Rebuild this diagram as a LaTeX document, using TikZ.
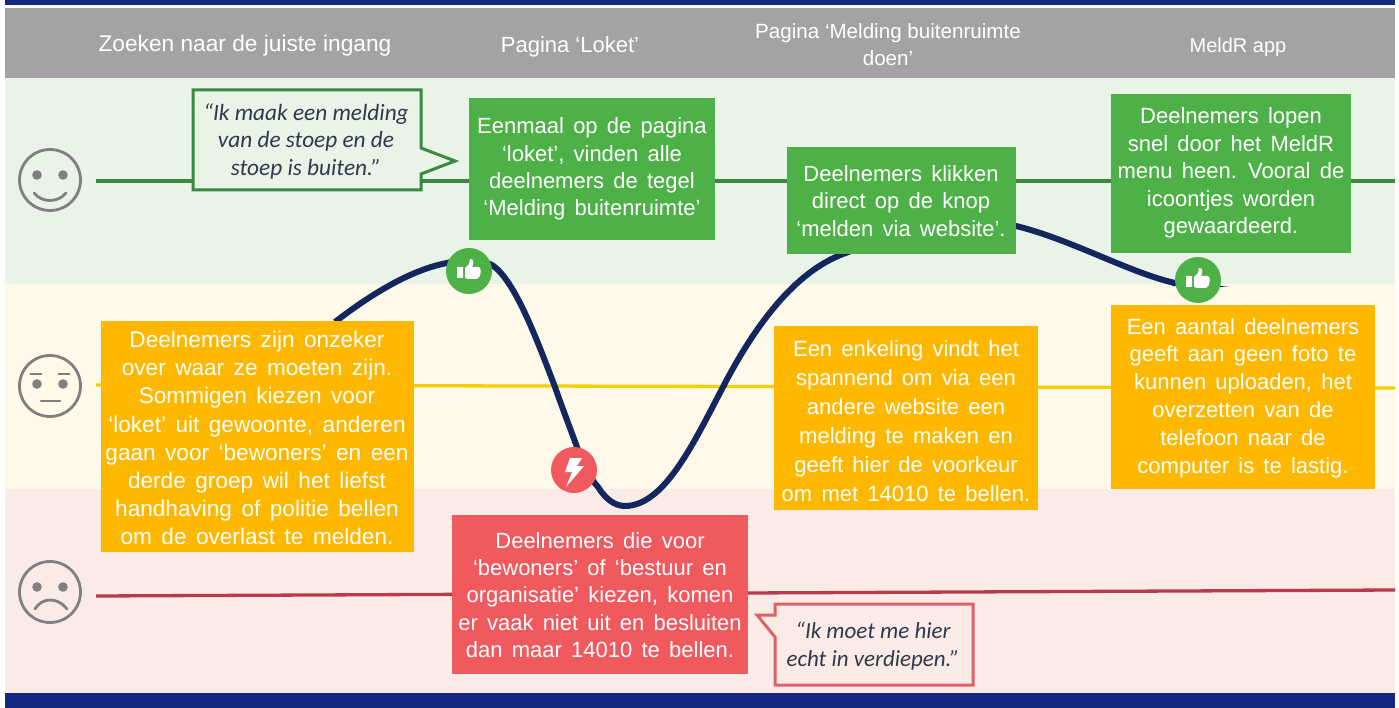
\documentclass[tikz,border=0pt]{standalone}
\usepackage{fontspec}
\setmainfont{Liberation Sans}
\newfontfamily\quotefont{Carlito}
\definecolor{navy}{HTML}{14287F}
\definecolor{curvenavy}{HTML}{13275E}
\definecolor{hdr}{HTML}{A3A3A3}
\definecolor{bandg}{HTML}{E9F3E8}
\definecolor{bandy}{HTML}{FEF9E8}
\definecolor{bandr}{HTML}{FBEBE6}
\definecolor{boxg}{HTML}{4DB148}
\definecolor{boxy}{HTML}{FFB800}
\definecolor{boxr}{HTML}{F05A5F}
\definecolor{lineg}{HTML}{3A8A3F}
\definecolor{liney}{HTML}{F5D000}
\definecolor{liner}{HTML}{B83A4C}
\definecolor{callr}{HTML}{E0606A}
\definecolor{face}{HTML}{808080}
\definecolor{quotetxt}{HTML}{2D3A4D}
\newcommand{\boxfont}[2]{\fontsize{#1}{#2}\selectfont\spaceskip=.42em\relax}
\tikzset{
  hdrtext/.style={text=white,align=center,inner sep=0pt},
  msgbox/.style={text=white,align=center,inner sep=0pt,anchor=center},
  quotetext/.style={text=quotetxt,align=center,inner sep=0pt},
  badge/.style={circle,minimum size=46pt,inner sep=0pt},
  smiley/.style={circle,draw=face,line width=2.8pt,minimum size=61pt,inner sep=0pt},
  facepart/.style={line width=2.8pt,draw=face,line cap=round},
  mood/.style={line width=3.3pt},
  journey/.style={draw=curvenavy,line width=6pt}
}
\newcommand{\thumbicon}[1]{%
  \fill[white,shift={(#1)}] (-12,-4) rectangle (-6,7)
   (-4,-3) -- (0,-7) -- (1,-12) .. controls (5,-13) and (5,-7) .. (3,-4) -- (10,-4)
   .. controls (13,-3) and (12,7) .. (8,8) -- (-1,8) .. controls (-3,8) and (-4,7) .. (-4,6) -- cycle;}
\newcommand{\bolticon}[1]{%
  \fill[white,shift={(#1)}] (-4,-12) -- (8,-12) -- (3,-4) -- (10,-4) -- (-8,17) -- (-2,2) -- (-9,2) -- cycle;}
\begin{document}
\begin{tikzpicture}[x=1pt,y=-1pt]
\useasboundingbox (0,0) rectangle (1399,708);
\fill[white] (0,0) rectangle (1399,708);
% bands
\fill[navy] (5,0) rectangle (1395,5);
\fill[hdr] (5,8) rectangle (1395,78);
\fill[bandg] (5,78) rectangle (1395,284);
\fill[bandy] (5,284) rectangle (1395,489);
\fill[bandr] (5,489) rectangle (1395,693);
\fill[navy] (5,693) rectangle (1395,708);
% headers
\node[hdrtext,font=\fontsize{22.7}{25}\selectfont] (h1) at (245,46) {Zoeken naar de juiste ingang};
\node[hdrtext,font=\fontsize{22}{25}\selectfont] (h2) at (570,47) {Pagina ‘Loket’};
\node[hdrtext,font=\fontsize{20.6}{27}\selectfont] (h3) at (888,45) {Pagina ‘Melding buitenruimte\\doen’};
\node[hdrtext,font=\fontsize{20}{25}\selectfont] (h4) at (1238,47) {MeldR app};
% faces
\node[smiley] (fhappy) at (50,180) {};
\fill[face] (37,175) circle (4.8) (63,175) circle (4.8);
\draw[facepart] (34,193) .. controls (42,203) and (58,203) .. (66,193);
\node[smiley] (fneutral) at (50,386) {};
\fill[face] (37,384) circle (4.8) (63,384) circle (4.8);
\draw[facepart,line cap=butt] (30,374) -- (42,374) (58,374) -- (70,374);
\draw[facepart] (41,401) -- (60,401);
\node[smiley] (fsad) at (50,592) {};
\fill[face] (37,587) circle (4.8) (63,587) circle (4.8);
\draw[facepart] (35,609) .. controls (42,597) and (58,597) .. (67,609);
% mood lines
\coordinate (gs) at (96,181); \coordinate (ge) at (1395,181);
\coordinate (ys) at (96,385); \coordinate (ye) at (1395,388);
\coordinate (rs) at (96,596); \coordinate (re) at (1395,590);
\draw[mood,lineg] (gs) -- (ge);
\draw[mood,liney] (ys) -- (ye);
\draw[mood,liner] (rs) -- (re);
% journey
\coordinate (j0) at (335,322);
\coordinate (ja) at (447,263);
\coordinate (jb) at (492,265);
\coordinate (j1) at (555,387);
\coordinate (jc) at (577,447);
\coordinate (jd) at (598,487);
\coordinate (j2) at (625,506);
\coordinate (je) at (723,387);
\coordinate (j3) at (843,254);
\coordinate (j4) at (1016,226);
\coordinate (j5) at (1175,283);
\coordinate (j6) at (1229,287);
\node[badge] (t1) at (469,271) {};
\node[badge] (b1) at (574,470) {};
\node[badge] (t2) at (1198,280) {};
\draw[journey] (j0) .. controls (370,295) and (410,270) .. (ja)
  .. controls (462,259) and (478,258) .. (jb)
  .. controls (515,280) and (537,340) .. (j1)
  .. controls (562,407) and (570,428) .. (jc)
  .. controls (584,466) and (590,478) .. (jd)
  .. controls (605,498) and (614,506) .. (j2)
  .. controls (665,506) and (695,440) .. (je)
  .. controls (755,325) and (795,272) .. (j3)
  .. controls (890,236) and (960,213) .. (j4)
  .. controls (1070,239) and (1130,273) .. (j5);
\fill[curvenavy] (j5) ++(0,-3) -- (j6) -- (1172,286) -- cycle;
% badges
\node[badge,fill=boxg] at (t1) {};
\thumbicon{469,271}
\node[badge,fill=boxr] at (b1) {};
\bolticon{574,470}
\node[badge,fill=boxg] at (t2) {};
\thumbicon{1198,280}
% green boxes
\fill[boxg] (469,98) rectangle (715,240);
\node[msgbox,font=\boxfont{22}{27.3}] (g1) at (592,169) {Eenmaal op de pagina\\‘loket’, vinden alle\\deelnemers de tegel\\‘Melding buitenruimte’};
\fill[boxg] (787,147) rectangle (1016,254);
\node[msgbox,font=\boxfont{22}{27.5}] (g2) at (901,201) {Deelnemers klikken\\direct op de knop\\‘melden via website’.};
\fill[boxg] (1111,94) rectangle (1351,253);
\node[msgbox,font=\boxfont{22}{27.5}] (g3) at (1231,173) {Deelnemers lopen\\snel door het MeldR\\menu heen. Vooral de\\icoontjes worden\\gewaardeerd.};
% yellow boxes
\fill[boxy] (101,321) rectangle (414,552);
\node[msgbox,font=\boxfont{22.6}{28.1}] (y1) at (257,438) {Deelnemers zijn onzeker\\over waar ze moeten zijn.\\Sommigen kiezen voor\\‘loket’ uit gewoonte, anderen\\gaan voor ‘bewoners’ en een\\derde groep wil het liefst\\handhaving of politie bellen\\om de overlast te melden.};
\fill[boxy] (774,326) rectangle (1038,510);
\node[msgbox,font=\boxfont{22}{29}] (y2) at (906,421) {Een enkeling vindt het\\spannend om via een\\andere website een\\melding te maken en\\geeft hier de voorkeur\\om met 14010 te bellen.};
\fill[boxy] (1111,305) rectangle (1375,489);
\node[msgbox,font=\boxfont{22}{27.8}] (y3) at (1243,398) {Een aantal deelnemers\\geeft aan geen foto te\\kunnen uploaden, het\\overzetten van de\\telefoon naar de\\computer is te lastig.};
% red box
\fill[boxr] (452,515) rectangle (748,674);
\node[msgbox,font=\boxfont{22}{27.3}] (r1) at (600,595) {Deelnemers die voor\\‘bewoners’ of ‘bestuur en\\organisatie’ kiezen, komen\\er vaak niet uit en besluiten\\dan maar 14010 te bellen.};
% callouts
\filldraw[fill=bandg,draw=lineg,line width=3pt] (193,90) -- (421,90) -- (421,148) -- (455,161) -- (421,174) -- (421,190) -- (193,190) -- cycle;
\node[quotetext,font=\quotefont\itshape\fontsize{23.3}{27.5}\selectfont] (q1) at (306,141) {“Ik maak een melding\\van de stoep en de\\stoep is buiten.”};
\filldraw[fill=bandr,draw=callr,line width=3pt] (775,604) -- (973,604) -- (973,685) -- (775,685) -- (775,637) -- (757,615) -- (775,615) -- cycle;
\node[quotetext,font=\quotefont\itshape\fontsize{23}{28}\selectfont] (q2) at (873,646) {“Ik moet me hier\\echt in verdiepen.”};
\end{tikzpicture}
\end{document}
